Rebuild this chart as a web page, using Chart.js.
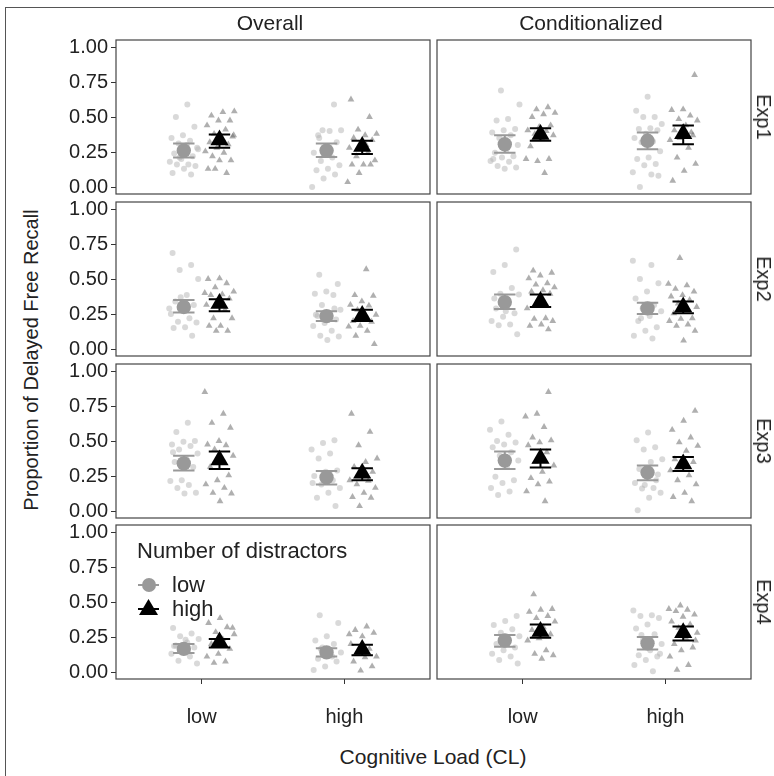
<!DOCTYPE html>
<html>
<head>
<meta charset="utf-8">
<script src="https://cdn.jsdelivr.net/npm/chart.js@4.4.1/dist/chart.umd.min.js"></script>
<style>
  body { margin: 0; background: #fff; font-family: "Liberation Sans", Arial, sans-serif; color: #222; }
  #fig { position: relative; width: 774px; height: 776px; overflow: hidden; }
  #frame { position: absolute; left: 5px; top: 7px; width: 820px; height: 820px; border-left: 1.5px solid #555; border-top: 1.5px solid #555; }
  canvas { position: absolute; }
  .lbl { position: absolute; font-size: 20px; white-space: nowrap; line-height: 1; transform: translate(-50%, -50%); }
  .mk { position: absolute; }
</style>
</head>
<body>
<div id="fig"><div id="frame"></div></div>
<script>
const experiments = ['Exp1', 'Exp2', 'Exp3', 'Exp4'];
const measures = ['Overall', 'Conditionalized'];
const loadLevels = ['low', 'high'];
const distractorLevels = ['low', 'high'];
const yTicks = [0, 0.25, 0.5, 0.75, 1];

// individual proportions per participant: [CL low, CL high]
const exp1OverallLowDist = [
  [0.59, 0.50, 0.43, 0.37, 0.35, 0.33, 0.31, 0.28, 0.26, 0.24, 0.22, 0.20, 0.18, 0.16, 0.16, 0.15, 0.13, 0.10, 0.09, 0.21, 0.27, 0.30],
  [0.59, 0.405, 0.405, 0.40, 0.37, 0.32, 0.28, 0.245, 0.21, 0.185, 0.155, 0.13, 0.12, 0.09, 0.06, 0.0, 0.26, 0.35]
];
const exp1OverallHighDist = [
  [0.54, 0.535, 0.51, 0.475, 0.475, 0.44, 0.41, 0.38, 0.36, 0.35, 0.32, 0.305, 0.28, 0.255, 0.245, 0.22, 0.19, 0.19, 0.13, 0.10, 0.13, 0.37],
  [0.625, 0.50, 0.41, 0.38, 0.37, 0.35, 0.335, 0.31, 0.28, 0.245, 0.22, 0.19, 0.16, 0.16, 0.16, 0.10, 0.035, 0.30]
];
const exp1CondLowDist = [
  [0.69, 0.59, 0.485, 0.475, 0.415, 0.405, 0.39, 0.37, 0.35, 0.30, 0.265, 0.245, 0.22, 0.21, 0.185, 0.18, 0.15, 0.14, 0.13, 0.20],
  [0.645, 0.545, 0.50, 0.50, 0.45, 0.42, 0.415, 0.405, 0.38, 0.35, 0.325, 0.32, 0.255, 0.21, 0.20, 0.165, 0.155, 0.105, 0.09, 0.0, 0.08]
];
const exp1CondHighDist = [
  [0.57, 0.555, 0.53, 0.52, 0.50, 0.44, 0.43, 0.405, 0.40, 0.38, 0.37, 0.35, 0.29, 0.20, 0.185, 0.20, 0.10],
  [0.80, 0.555, 0.55, 0.51, 0.485, 0.475, 0.44, 0.405, 0.37, 0.36, 0.335, 0.28, 0.21, 0.165, 0.115, 0.045, 0.39, 0.35]
];
const exp2OverallLowDist = [
  [0.685, 0.60, 0.565, 0.50, 0.385, 0.34, 0.315, 0.28, 0.25, 0.22, 0.195, 0.19, 0.155, 0.15, 0.095, 0.37, 0.29],
  [0.53, 0.465, 0.41, 0.395, 0.385, 0.315, 0.28, 0.255, 0.235, 0.21, 0.185, 0.165, 0.13, 0.095, 0.09, 0.065, 0.245, 0.29]
];
const exp2OverallHighDist = [
  [0.505, 0.50, 0.47, 0.44, 0.41, 0.39, 0.385, 0.36, 0.34, 0.315, 0.28, 0.22, 0.22, 0.165, 0.165, 0.13, 0.13, 0.40],
  [0.57, 0.385, 0.38, 0.34, 0.315, 0.31, 0.28, 0.245, 0.22, 0.20, 0.195, 0.165, 0.16, 0.13, 0.095, 0.035, 0.255]
];
const exp2CondLowDist = [
  [0.71, 0.60, 0.55, 0.435, 0.395, 0.39, 0.335, 0.29, 0.255, 0.23, 0.20, 0.175, 0.17, 0.105, 0.27, 0.36],
  [0.63, 0.60, 0.50, 0.47, 0.41, 0.36, 0.315, 0.29, 0.27, 0.235, 0.20, 0.155, 0.13, 0.095, 0.075, 0.22]
];
const exp2CondHighDist = [
  [0.56, 0.545, 0.525, 0.505, 0.47, 0.46, 0.44, 0.42, 0.41, 0.395, 0.36, 0.29, 0.22, 0.215, 0.20, 0.175, 0.165, 0.14],
  [0.65, 0.465, 0.455, 0.43, 0.41, 0.385, 0.375, 0.35, 0.325, 0.30, 0.29, 0.255, 0.22, 0.215, 0.20, 0.175, 0.165, 0.13, 0.06]
];
const exp3OverallLowDist = [
  [0.63, 0.565, 0.50, 0.495, 0.475, 0.465, 0.44, 0.41, 0.375, 0.35, 0.315, 0.22, 0.215, 0.185, 0.165, 0.13, 0.125, 0.42],
  [0.505, 0.485, 0.44, 0.41, 0.375, 0.29, 0.28, 0.25, 0.22, 0.19, 0.165, 0.13, 0.095, 0.035, 0.255, 0.20]
];
const exp3OverallHighDist = [
  [0.85, 0.695, 0.63, 0.595, 0.50, 0.475, 0.47, 0.44, 0.395, 0.35, 0.315, 0.255, 0.22, 0.19, 0.165, 0.13, 0.125, 0.07],
  [0.695, 0.565, 0.47, 0.375, 0.35, 0.315, 0.28, 0.25, 0.22, 0.215, 0.19, 0.165, 0.13, 0.10, 0.095, 0.035]
];
const exp3CondLowDist = [
  [0.64, 0.58, 0.545, 0.50, 0.49, 0.475, 0.455, 0.42, 0.395, 0.36, 0.315, 0.245, 0.22, 0.20, 0.165, 0.14, 0.115],
  [0.56, 0.505, 0.455, 0.44, 0.37, 0.35, 0.30, 0.26, 0.245, 0.20, 0.165, 0.16, 0.13, 0.095, 0.005, 0.22, 0.185]
];
const exp3CondHighDist = [
  [0.85, 0.695, 0.675, 0.60, 0.525, 0.505, 0.49, 0.47, 0.42, 0.35, 0.325, 0.28, 0.235, 0.21, 0.19, 0.14, 0.07],
  [0.715, 0.645, 0.58, 0.525, 0.49, 0.465, 0.43, 0.37, 0.35, 0.315, 0.29, 0.255, 0.22, 0.19, 0.13, 0.10, 0.07]
];
const exp4OverallLowDist = [
  [0.315, 0.275, 0.255, 0.235, 0.21, 0.19, 0.175, 0.155, 0.13, 0.11, 0.08, 0.06, 0.23, 0.185],
  [0.405, 0.35, 0.255, 0.225, 0.20, 0.175, 0.14, 0.13, 0.095, 0.075, 0.04, 0.015, 0.11, 0.165]
];
const exp4OverallHighDist = [
  [0.385, 0.35, 0.32, 0.285, 0.27, 0.235, 0.20, 0.165, 0.13, 0.11, 0.075, 0.065, 0.315, 0.225],
  [0.325, 0.30, 0.28, 0.255, 0.20, 0.165, 0.13, 0.11, 0.105, 0.075, 0.04, 0.01, 0.27]
];
const exp4CondLowDist = [
  [0.40, 0.365, 0.335, 0.305, 0.28, 0.255, 0.23, 0.20, 0.175, 0.155, 0.13, 0.11, 0.085, 0.06, 0.21],
  [0.44, 0.405, 0.40, 0.385, 0.34, 0.31, 0.27, 0.23, 0.20, 0.155, 0.12, 0.11, 0.085, 0.05, 0.005, 0.265, 0.13]
];
const exp4CondHighDist = [
  [0.555, 0.45, 0.445, 0.43, 0.40, 0.385, 0.36, 0.32, 0.30, 0.27, 0.24, 0.225, 0.155, 0.13, 0.12, 0.095],
  [0.475, 0.45, 0.445, 0.435, 0.41, 0.395, 0.36, 0.34, 0.315, 0.28, 0.245, 0.20, 0.175, 0.155, 0.11, 0.05, 0.015, 0.225]
];

// means and error bar ends, one row per panel (Exp1 Overall, Exp1 Cond, Exp2 Overall, ...), [CL low, CL high]
const lowDistMean  = [[0.26, 0.26], [0.305, 0.33], [0.30, 0.235], [0.335, 0.29], [0.34, 0.24], [0.36, 0.275], [0.165, 0.14], [0.225, 0.205]];
const lowDistLower = [[0.21, 0.215], [0.245, 0.27], [0.26, 0.20], [0.285, 0.25], [0.29, 0.19], [0.30, 0.22], [0.135, 0.11], [0.18, 0.16]];
const lowDistUpper = [[0.31, 0.31], [0.37, 0.39], [0.35, 0.27], [0.39, 0.33], [0.395, 0.285], [0.425, 0.325], [0.20, 0.17], [0.265, 0.25]];
const highDistMean  = [[0.335, 0.29], [0.375, 0.38], [0.325, 0.24], [0.34, 0.30], [0.365, 0.27], [0.375, 0.335], [0.215, 0.16], [0.29, 0.28]];
const highDistLower = [[0.28, 0.235], [0.33, 0.305], [0.27, 0.20], [0.30, 0.255], [0.30, 0.22], [0.31, 0.285], [0.175, 0.12], [0.245, 0.225]];
const highDistUpper = [[0.375, 0.33], [0.42, 0.44], [0.355, 0.28], [0.39, 0.34], [0.425, 0.305], [0.44, 0.385], [0.235, 0.195], [0.34, 0.325]];

const panelPoints = [
  [exp1OverallLowDist, exp1OverallHighDist], [exp1CondLowDist, exp1CondHighDist],
  [exp2OverallLowDist, exp2OverallHighDist], [exp2CondLowDist, exp2CondHighDist],
  [exp3OverallLowDist, exp3OverallHighDist], [exp3CondLowDist, exp3CondHighDist],
  [exp4OverallLowDist, exp4OverallHighDist], [exp4CondLowDist, exp4CondHighDist]
];

// layout
const panelX = [116, 437], panelW = 314;
const panelY = [40, 202, 364, 525], panelH = 154;
const AXIS_W = 60, AXIS_H = 60, M = 14;
const dodge = 0.125, capHalf = 0.075, jitterW = 0.21;
const FONT = '"Liberation Sans", Arial, sans-serif';
Chart.defaults.font.family = FONT;

const fig = document.getElementById('fig');

function label(text, x, y, extra, size) {
  const d = document.createElement('div');
  d.className = 'lbl';
  d.textContent = text;
  d.style.left = x + 'px';
  d.style.top = y + 'px';
  if (size) d.style.fontSize = size + 'px';
  if (extra) d.style.transform = 'translate(-50%, -50%) ' + extra;
  fig.appendChild(d);
  return d;
}

// spread of the jittered points (placement only)
function jit(i, seed) {
  const f = ((i + 1) * 0.6180339887 + seed * 0.377) % 1;
  return (f - 0.5) * jitterW;
}

function pointsData(lists, side, seed) {
  const out = [];
  lists.forEach((vals, c) => {
    vals.forEach((v, i) => out.push({ x: c + 1 + side * dodge + jit(i, seed + c * 3), y: v }));
  });
  return out;
}

function errorData(lo, hi, side) {
  const out = [];
  for (let c = 0; c < 2; c++) {
    const xc = c + 1 + side * dodge;
    out.push({ x: xc - capHalf, y: hi[c] }, { x: xc + capHalf, y: hi[c] }, { x: xc, y: null },
             { x: xc, y: hi[c] }, { x: xc, y: lo[c] }, { x: xc, y: null },
             { x: xc - capHalf, y: lo[c] }, { x: xc + capHalf, y: lo[c] }, { x: xc, y: null });
  }
  return out;
}

const panelBorder = {
  id: 'panelBorder',
  afterDraw(chart) {
    const a = chart.chartArea, ctx = chart.ctx;
    ctx.save();
    ctx.strokeStyle = '#444';
    ctx.lineWidth = 1.2;
    ctx.strokeRect(a.left, a.top, a.width, a.height);
    ctx.restore();
  }
};

for (let r = 0; r < 4; r++) {
  for (let c = 0; c < 2; c++) {
    const p = r * 2 + c;
    const hasY = c === 0, hasX = r === 3;
    const cv = document.createElement('canvas');
    const w = panelW + (hasY ? AXIS_W : M) + M;
    const h = panelH + M + (hasX ? AXIS_H : M);
    cv.width = w; cv.height = h;
    cv.style.left = (panelX[c] - (hasY ? AXIS_W : M)) + 'px';
    cv.style.top = (panelY[r] - M) + 'px';
    fig.appendChild(cv);

    const [lowPts, highPts] = panelPoints[p];
    const datasets = [
      { data: highDistMean[p].map((v, k) => ({ x: k + 1 + dodge, y: v })), pointStyle: 'triangle',
        pointRadius: 10.5, backgroundColor: '#000', borderColor: '#000', borderWidth: 0, order: 0 },
      { data: lowDistMean[p].map((v, k) => ({ x: k + 1 - dodge, y: v })), pointStyle: 'circle',
        pointRadius: 7.2, backgroundColor: '#999', borderColor: '#999', borderWidth: 0, order: 1 },
      { data: errorData(highDistLower[p], highDistUpper[p], 1), showLine: true, spanGaps: false,
        pointRadius: 0, borderColor: '#000', borderWidth: 2, order: 2 },
      { data: errorData(lowDistLower[p], lowDistUpper[p], -1), showLine: true, spanGaps: false,
        pointRadius: 0, borderColor: '#999', borderWidth: 2, order: 3 },
      { data: pointsData(highPts, 1, p * 2 + 1), pointStyle: 'triangle', pointRadius: 3.9,
        backgroundColor: 'rgba(110,110,110,0.55)', borderWidth: 0, order: 4 },
      { data: pointsData(lowPts, -1, p * 2), pointStyle: 'circle', pointRadius: 3,
        backgroundColor: 'rgba(180,180,180,0.5)', borderWidth: 0, order: 5 }
    ];

    new Chart(cv, {
      type: 'scatter',
      data: { datasets },
      options: {
        responsive: false,
        animation: false,
        devicePixelRatio: 1,
        layout: { padding: { left: hasY ? 0 : M, right: M, top: M, bottom: hasX ? 0 : M } },
        plugins: { legend: { display: false }, tooltip: { enabled: false } },
        scales: {
          x: {
            type: 'linear', min: 0.4, max: 2.6, display: hasX,
            afterBuildTicks: s => { s.ticks = [{ value: 1 }, { value: 2 }]; },
            afterFit: s => { if (hasX) { s.height = AXIS_H; s.paddingLeft = 0; s.paddingRight = 0; } },
            ticks: { callback: v => loadLevels[v - 1], color: '#222', font: { size: 20 }, padding: 21,
                     maxRotation: 0, autoSkip: false },
            grid: { drawOnChartArea: false, tickLength: 5, color: '#333', lineWidth: 1 },
            border: { display: false }
          },
          y: {
            min: -0.05, max: 1.05, display: hasY,
            afterBuildTicks: s => { s.ticks = yTicks.map(v => ({ value: v })); },
            afterFit: s => { if (hasY) { s.width = AXIS_W; s.paddingTop = 0; s.paddingBottom = 0; } },
            ticks: { callback: v => v.toFixed(2), color: '#222', font: { size: 20 }, padding: 3, autoSkip: false },
            grid: { drawOnChartArea: false, tickLength: 5, color: '#333', lineWidth: 1 },
            border: { display: false }
          }
        }
      },
      plugins: [panelBorder]
    });
  }
  label(experiments[r], 764, panelY[r] + panelH / 2, 'rotate(90deg)');
}

measures.forEach((m, c) => label(m, panelX[c] + panelW / 2 - 3, 22, null, 21));
label('Proportion of Delayed Free Recall', 31, 360, 'rotate(-90deg)');
label('Cognitive Load (CL)', 433, 756, null, 21);

// legend inside the bottom-left panel
const lt = label('Number of distractors', 0, 551, null, 22);
lt.style.left = '137px';
lt.style.transform = 'translate(0, -50%)';
const keyRows = [585, 609];
distractorLevels.forEach((lvl, k) => {
  const y = keyRows[k];
  const col = k === 0 ? '#999' : '#000';
  const line = document.createElement('div');
  line.className = 'mk';
  Object.assign(line.style, { left: '138px', top: (y - 1) + 'px', width: '21px', height: '2px', background: col });
  fig.appendChild(line);
  const m = document.createElement('div');
  m.className = 'mk';
  if (k === 0) {
    Object.assign(m.style, { left: '141.5px', top: (y - 7) + 'px', width: '14px', height: '14px', borderRadius: '50%', background: col });
  } else {
    Object.assign(m.style, { left: '139px', top: (y - 10) + 'px', width: '19px', height: '16px', background: col,
                             clipPath: 'polygon(50% 0, 100% 100%, 0 100%)' });
  }
  fig.appendChild(m);
  const t = label(lvl, 0, y, null, 22);
  t.style.left = '172px';
  t.style.transform = 'translate(0, -50%)';
});
</script>
</body>
</html>
